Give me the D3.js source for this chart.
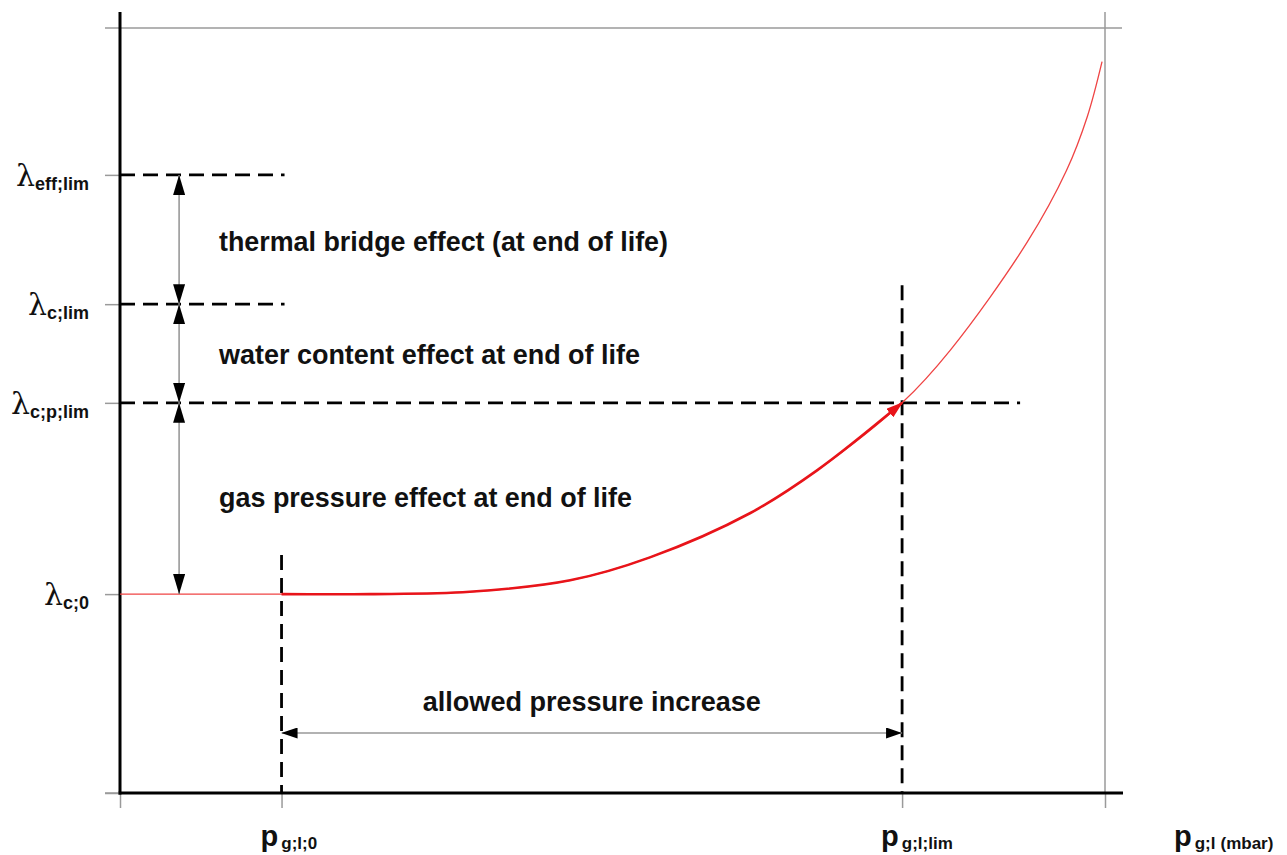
<!DOCTYPE html>
<html>
<head>
<meta charset="utf-8">
<script src="https://d3js.org/d3.v7.min.js"></script>
<style>
  body { margin: 0; background: #fff; }
  svg { display: block; }
</style>
</head>
<body>
<script>
// pressure (arbitrary units, 0..100) and conductivity (0..100)
var curveP = [0, 16.4, 25.4, 35.5, 45.7, 53.8, 64.0, 70.8, 79.4, 84.3, 92.1, 96.1, 98.2, 99.7];
var curveLam = [26.0, 26.0, 26.0, 26.3, 27.8, 30.8, 36.6, 42.2, 51.0, 57.9, 72.0, 81.4, 88.4, 95.6];

var p0 = 16.4,
  pLim = 79.4;
var lamLevels = [26.0, 51.0, 63.9, 80.8]; // c;0, c;p;lim, c;lim, eff;lim
var lamSubs = ["c;0", "c;p;lim", "c;lim", "eff;lim"];
var effectLabels = [
  "gas pressure effect at end of life",
  "water content effect at end of life",
  "thermal bridge effect (at end of life)",
];

var width = 1287,
  height = 855;

var svg = d3
  .select("body")
  .append("svg")
  .attr("width", width)
  .attr("height", height);

var x = d3.scaleLinear().domain([0, 100]).range([120, 1105]);
var y = d3.scaleLinear().domain([0, 100]).range([793, 28]);

// markers
var defs = svg.append("defs");
defs
  .append("marker")
  .attr("id", "headV")
  .attr("markerUnits", "userSpaceOnUse")
  .attr("markerWidth", 20)
  .attr("markerHeight", 12)
  .attr("refX", 20)
  .attr("refY", 6)
  .attr("orient", "auto-start-reverse")
  .append("path")
  .attr("d", "M0,0L20,6L0,12Z")
  .attr("fill", "#000");
defs
  .append("marker")
  .attr("id", "headH")
  .attr("markerUnits", "userSpaceOnUse")
  .attr("markerWidth", 16)
  .attr("markerHeight", 11)
  .attr("refX", 16)
  .attr("refY", 5.5)
  .attr("orient", "auto-start-reverse")
  .append("path")
  .attr("d", "M0,0L16,5.5L0,11Z")
  .attr("fill", "#000");
defs
  .append("marker")
  .attr("id", "headRed")
  .attr("markerUnits", "userSpaceOnUse")
  .attr("markerWidth", 17)
  .attr("markerHeight", 11)
  .attr("refX", 16)
  .attr("refY", 5.5)
  .attr("orient", "auto")
  .append("path")
  .attr("d", "M0,0L17,5.5L0,11Z")
  .attr("fill", "#e8141a");

// gray frame: top line and right line
svg
  .append("line")
  .attr("x1", x(0) - 15)
  .attr("x2", x(100) + 17)
  .attr("y1", y(100))
  .attr("y2", y(100))
  .style("stroke", "#9a9a9a")
  .style("stroke-width", 1.5);
svg
  .append("line")
  .attr("x1", x(100))
  .attr("x2", x(100))
  .attr("y1", 12)
  .attr("y2", y(0))
  .style("stroke", "#9a9a9a")
  .style("stroke-width", 1.5);

// Y axis ticks (gray stubs)
var yAxis = svg
  .append("g")
  .attr("transform", "translate(" + x(0) + ",0)")
  .call(d3.axisLeft(y).tickValues([0].concat(lamLevels)).tickSize(15).tickFormat(""));
yAxis.select(".domain").remove();
yAxis.selectAll(".tick line").attr("stroke", "#9a9a9a").attr("stroke-width", 1.5);

// X axis ticks (gray stubs)
var xAxis = svg
  .append("g")
  .attr("transform", "translate(0," + y(0) + ")")
  .call(d3.axisBottom(x).tickValues([0, p0, pLim, 100]).tickSize(15).tickFormat(""));
xAxis.select(".domain").remove();
xAxis.selectAll(".tick line").attr("stroke", "#9a9a9a").attr("stroke-width", 1.5);

// dashed guide lines
var dashed = svg.append("g").style("stroke", "#000").style("stroke-width", 2.8).style("stroke-dasharray", "15,8");
dashed
  .append("line")
  .attr("x1", x(0))
  .attr("x2", x(p0) + 3)
  .attr("y1", y(lamLevels[3]))
  .attr("y2", y(lamLevels[3]));
dashed
  .append("line")
  .attr("x1", x(0))
  .attr("x2", x(p0) + 3)
  .attr("y1", y(lamLevels[2]))
  .attr("y2", y(lamLevels[2]));
dashed
  .append("line")
  .attr("x1", x(0))
  .attr("x2", x(pLim) + 118)
  .attr("y1", y(lamLevels[1]))
  .attr("y2", y(lamLevels[1]));
dashed
  .append("line")
  .attr("x1", x(p0))
  .attr("x2", x(p0))
  .attr("y1", y(lamLevels[0]) - 39)
  .attr("y2", y(0));
dashed
  .append("line")
  .attr("x1", x(pLim))
  .attr("x2", x(pLim))
  .attr("y1", y(lamLevels[2]) - 19)
  .attr("y2", y(0));

// main black axes
svg
  .append("line")
  .attr("x1", x(0))
  .attr("x2", x(0))
  .attr("y1", 12)
  .attr("y2", y(0) + 1.5)
  .style("stroke", "#000")
  .style("stroke-width", 3);
svg
  .append("line")
  .attr("x1", x(0) - 15)
  .attr("x2", x(0))
  .attr("y1", y(0))
  .attr("y2", y(0))
  .style("stroke", "#9a9a9a")
  .style("stroke-width", 1.5);
svg
  .append("line")
  .attr("x1", x(0) - 1.5)
  .attr("x2", x(100) + 18)
  .attr("y1", y(0))
  .attr("y2", y(0))
  .style("stroke", "#000")
  .style("stroke-width", 3);

// red curve
var pts = curveP.map(function (d, i) {
  return [d, curveLam[i]];
});
var line = d3
  .line()
  .x(function (d) {
    return x(d[0]);
  })
  .y(function (d) {
    return y(d[1]);
  })
  .curve(d3.curveCatmullRom.alpha(0.5));

svg
  .append("path")
  .attr("d", line(pts))
  .attr("fill", "none")
  .style("stroke", "#ef4444")
  .style("stroke-width", 1.3);

svg
  .append("path")
  .attr(
    "d",
    line(
      pts.filter(function (d) {
        return d[0] >= p0 && d[0] <= pLim;
      })
    )
  )
  .attr("fill", "none")
  .attr("marker-end", "url(#headRed)")
  .style("stroke", "#e8141a")
  .style("stroke-width", 2.6);

// vertical double arrows
var ax = x(6.0);
var arrowPairs = [
  [lamLevels[3], lamLevels[2]],
  [lamLevels[2], lamLevels[1]],
  [lamLevels[1], lamLevels[0]],
];
svg
  .selectAll(".varrow")
  .data(arrowPairs)
  .enter()
  .append("line")
  .attr("class", "varrow")
  .attr("x1", ax)
  .attr("x2", ax)
  .attr("y1", function (d) {
    return y(d[0]);
  })
  .attr("y2", function (d) {
    return y(d[1]);
  })
  .attr("marker-start", "url(#headV)")
  .attr("marker-end", "url(#headV)")
  .style("stroke", "#999")
  .style("stroke-width", 1.6);

// horizontal double arrow
svg
  .append("line")
  .attr("x1", x(p0))
  .attr("x2", x(pLim))
  .attr("y1", 733)
  .attr("y2", 733)
  .attr("marker-start", "url(#headH)")
  .attr("marker-end", "url(#headH)")
  .style("stroke", "#999")
  .style("stroke-width", 1.6);

// effect labels
var effY = [507, 364, 251];
var effLen = [413, 421, 449];
svg
  .selectAll(".eff")
  .data(effectLabels)
  .enter()
  .append("text")
  .attr("class", "eff")
  .attr("x", 219)
  .attr("y", function (d, i) {
    return effY[i];
  })
  .attr("textLength", function (d, i) {
    return effLen[i];
  })
  .attr("lengthAdjust", "spacingAndGlyphs")
  .attr("font-family", "Liberation Sans, Arial, sans-serif")
  .attr("font-weight", "bold")
  .attr("font-size", 27)
  .attr("fill", "#111")
  .text(function (d) {
    return d;
  });

svg
  .append("text")
  .attr("x", (x(p0) + x(pLim)) / 2)
  .attr("y", 711)
  .attr("text-anchor", "middle")
  .attr("textLength", 338)
  .attr("lengthAdjust", "spacingAndGlyphs")
  .attr("font-family", "Liberation Sans, Arial, sans-serif")
  .attr("font-weight", "bold")
  .attr("font-size", 27)
  .attr("fill", "#111")
  .text("allowed pressure increase");

// lambda labels
var lamText = svg
  .selectAll(".lam")
  .data(lamLevels)
  .enter()
  .append("text")
  .attr("class", "lam")
  .attr("x", 89)
  .attr("y", function (d) {
    return y(d) + 11;
  })
  .attr("text-anchor", "end")
  .attr("fill", "#111");
lamText
  .append("tspan")
  .attr("font-family", "DejaVu Serif, serif")
  .attr("font-size", 30)
  .text("λ");
lamText
  .append("tspan")
  .attr("dy", 4)
  .attr("font-family", "Liberation Sans, Arial, sans-serif")
  .attr("font-weight", "bold")
  .attr("font-size", 18)
  .text(function (d, i) {
    return lamSubs[i];
  });

// pressure labels
var pLabels = [
  { v: p0, sub: "g;l;0" },
  { v: pLim, sub: "g;l;lim" },
];
var pText = svg
  .selectAll(".plab")
  .data(pLabels)
  .enter()
  .append("text")
  .attr("class", "plab")
  .attr("x", function (d) {
    return x(d.v) - 21;
  })
  .attr("y", 846)
  .attr("fill", "#111")
  .attr("font-family", "Liberation Sans, Arial, sans-serif")
  .attr("font-weight", "bold");
pText.append("tspan").attr("font-size", 29).text("p");
pText
  .append("tspan")
  .attr("dx", 3)
  .attr("dy", 3)
  .attr("font-size", 17)
  .text(function (d) {
    return d.sub;
  });

var axisLab = svg
  .append("text")
  .attr("x", 1174)
  .attr("y", 846)
  .attr("fill", "#111")
  .attr("font-family", "Liberation Sans, Arial, sans-serif")
  .attr("font-weight", "bold");
axisLab.append("tspan").attr("font-size", 29).text("p");
axisLab.append("tspan").attr("dx", 3).attr("dy", 3).attr("font-size", 17).text("g;l");
axisLab
  .append("tspan")
  .attr("dx", 5)
  .attr("font-size", 17)
  .text("(mbar)");
</script>
</body>
</html>
